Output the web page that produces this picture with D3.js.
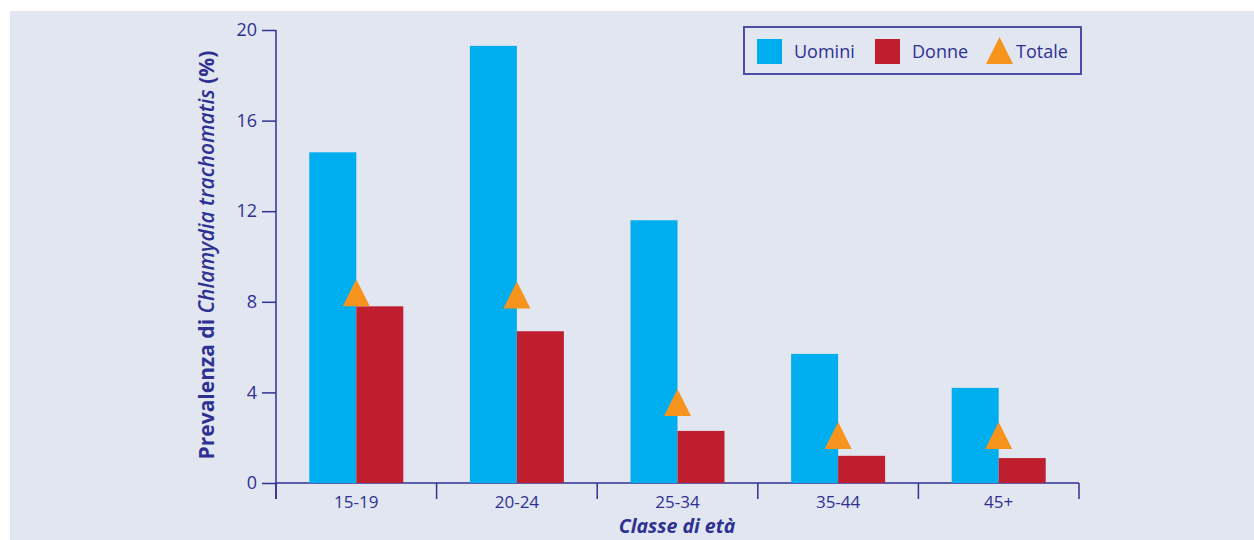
<!DOCTYPE html>
<html>
<head>
<meta charset="utf-8">
<script src="https://cdn.jsdelivr.net/npm/d3@7"></script>
<style>
  body { margin: 0; background: #ffffff; }
  text { font-family: "Open Sans", "Noto Sans", sans-serif; fill: #2e3192; }
</style>
</head>
<body>
<div id="chart"></div>
<script>
// data
var classi = ["15-19", "20-24", "25-34", "35-44", "45+"];
var uomini = [14.6, 19.3, 11.6, 5.7, 4.2];
var donne = [7.8, 6.7, 2.3, 1.2, 1.1];
var totale = [8.4, 8.3, 3.55, 2.1, 2.1];
var yTicks = [0, 4, 8, 12, 16, 20];

var width = 1254, height = 540;
var ink = "#2e3192";
var colUomini = "#00aeef", colDonne = "#be1e2d", colTotale = "#f7941d";

var svg = d3.select("#chart").append("svg").attr("width", width).attr("height", height);

// background panel
svg.append("rect").attr("x", 10).attr("y", 11).attr("width", width - 10).attr("height", height - 11).attr("fill", "#e1e6f1");

var x = d3.scaleBand().domain(classi).range([276, 1079]);
var y = d3.scaleLinear().domain([0, 20]).range([483, 30]);
var barW = 47;

// y axis
var yAxis = svg.append("g").attr("transform", "translate(276,0)")
  .call(d3.axisLeft(y).tickValues(yTicks).tickSize(14).tickPadding(5));
yAxis.select(".domain").remove();
yAxis.append("line").attr("x1", 0).attr("x2", 0).attr("y1", y(20)).attr("y2", 499).attr("stroke", ink).attr("stroke-width", 1.5);
yAxis.selectAll(".tick line").attr("stroke", ink).attr("stroke-width", 1.5);
yAxis.selectAll(".tick text").attr("font-size", 18).attr("fill", ink).style("font-family", "'Open Sans', sans-serif");

// x axis
var xAxis = svg.append("g").attr("transform", "translate(0,483)");
xAxis.append("line").attr("x1", 276).attr("x2", 1079).attr("stroke", ink).attr("stroke-width", 1.5);
var edges = classi.map(function(c) { return x(c); }).concat([x.range()[1]]);
xAxis.selectAll("line.tk").data(edges).enter().append("line").attr("class", "tk")
  .attr("x1", function(d) { return d; }).attr("x2", function(d) { return d; })
  .attr("y1", 0).attr("y2", 16).attr("stroke", ink).attr("stroke-width", 1.5);
xAxis.selectAll("text").data(classi).enter().append("text")
  .attr("x", function(d) { return x(d) + x.bandwidth() / 2; })
  .attr("y", 24.5).attr("text-anchor", "middle").attr("font-size", 17)
  .text(function(d) { return d; });

// bars
svg.selectAll("rect.uomini").data(uomini).enter().append("rect").attr("class", "uomini")
  .attr("x", function(d, i) { return x(classi[i]) + x.bandwidth() / 2 - barW; })
  .attr("y", function(d) { return y(d); })
  .attr("width", barW).attr("height", function(d) { return y(0) - y(d); })
  .attr("fill", colUomini);

svg.selectAll("rect.donne").data(donne).enter().append("rect").attr("class", "donne")
  .attr("x", function(d, i) { return x(classi[i]) + x.bandwidth() / 2; })
  .attr("y", function(d) { return y(d); })
  .attr("width", barW).attr("height", function(d) { return y(0) - y(d); })
  .attr("fill", colDonne);

// totale triangles, centred on the value
var tri = function(cx, cy, w, h) {
  return "M" + cx + "," + (cy - h / 2) + "L" + (cx + w / 2) + "," + (cy + h / 2) + "L" + (cx - w / 2) + "," + (cy + h / 2) + "Z";
};
svg.selectAll("path.totale").data(totale).enter().append("path").attr("class", "totale")
  .attr("d", function(d, i) { return tri(x(classi[i]) + x.bandwidth() / 2, y(d), 27, 27); })
  .attr("fill", colTotale);

// axis titles
svg.append("text").attr("x", 677).attr("y", 533).attr("text-anchor", "middle")
  .attr("font-size", 19.5).attr("font-weight", "bold").attr("font-style", "italic")
  .text("Classe di età");

var yt = svg.append("text").attr("transform", "translate(214,255) rotate(-90)")
  .attr("text-anchor", "middle").attr("font-size", 21).attr("font-weight", "bold");
yt.append("tspan").text("Prevalenza di ");
yt.append("tspan").attr("font-style", "italic").attr("font-weight", 600).text("Chlamydia trachomatis");
yt.append("tspan").text(" (%)");

// legend
var lg = svg.append("g");
lg.append("rect").attr("x", 744).attr("y", 27).attr("width", 337).attr("height", 47)
  .attr("fill", "none").attr("stroke", "#4b4fa3").attr("stroke-width", 2);
var legendItems = [
  { label: "Uomini", color: colUomini, kind: "rect", x: 757, tx: 794 },
  { label: "Donne", color: colDonne, kind: "rect", x: 875, tx: 912 },
  { label: "Totale", color: colTotale, kind: "tri", x: 986, tx: 1016 }
];
legendItems.forEach(function(it) {
  if (it.kind === "rect") {
    lg.append("rect").attr("x", it.x).attr("y", 39).attr("width", 25).attr("height", 25).attr("fill", it.color);
  } else {
    lg.append("path").attr("d", tri(it.x + 13.5, 50.5, 27, 27)).attr("fill", it.color);
  }
  lg.append("text").attr("x", it.tx).attr("y", 58).attr("font-size", 18).text(it.label);
});
</script>
</body>
</html>
